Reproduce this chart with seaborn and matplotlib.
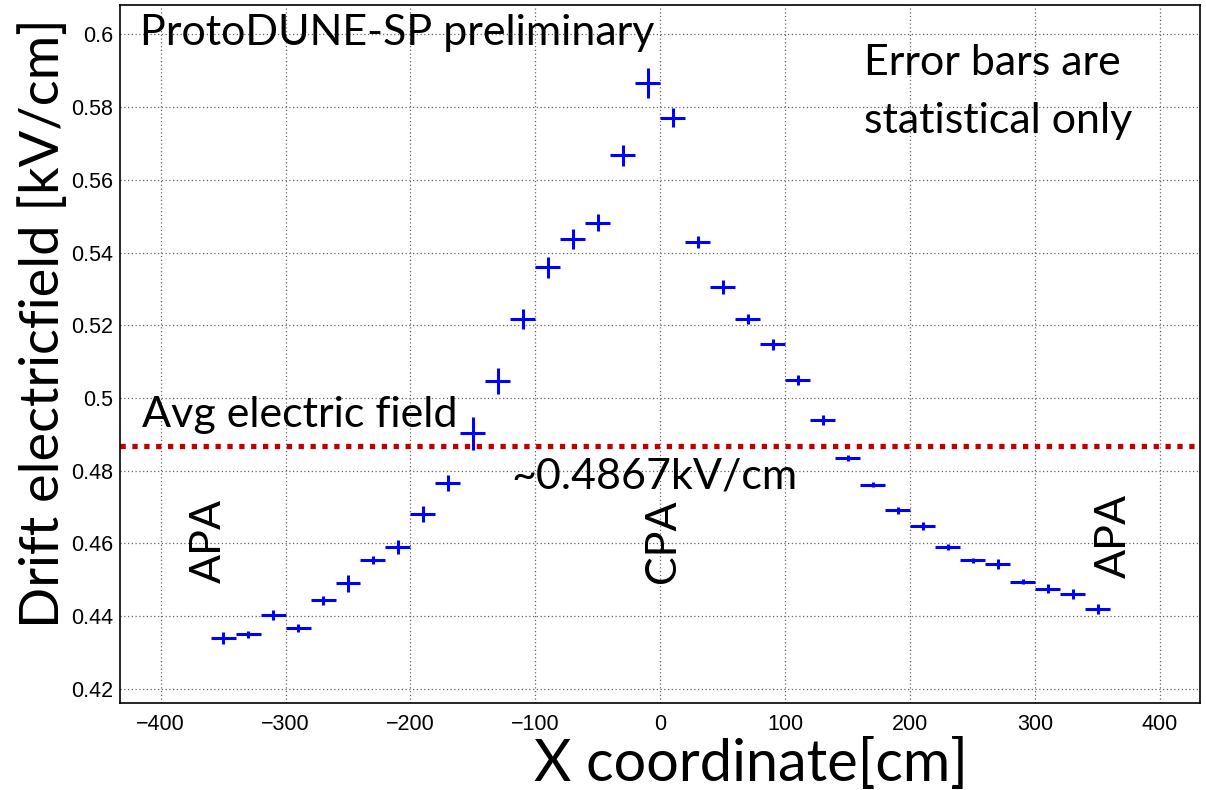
import seaborn as sns
import matplotlib.pyplot as plt
from matplotlib import font_manager
from matplotlib.ticker import MultipleLocator

# Datos
x_cm = [-350, -330, -310, -290, -270, -250, -230, -210, -190, -170, -150, -130,
        -110, -90, -70, -50, -30, -10, 10, 30, 50, 70, 90, 110,
        130, 150, 170, 190, 210, 230, 250, 270, 290, 310, 330, 350]
field = [0.4340, 0.4350, 0.4404, 0.4367, 0.4443, 0.4490, 0.4554, 0.4590, 0.4680,
         0.4767, 0.4903, 0.5047, 0.5217, 0.5359, 0.5438, 0.5482, 0.5668, 0.5867,
         0.5771, 0.5429, 0.5305, 0.5217, 0.5148, 0.5049, 0.4939, 0.4835, 0.4762,
         0.4691, 0.4648, 0.4590, 0.4553, 0.4543, 0.4494, 0.4475, 0.4461, 0.4419]
field_err = [0.0016, 0.0009, 0.0014, 0.0011, 0.0012, 0.0023, 0.0012, 0.0020, 0.0022,
             0.0022, 0.0046, 0.0036, 0.0027, 0.0030, 0.0027, 0.0023, 0.0029, 0.0042,
             0.0026, 0.0017, 0.0019, 0.0013, 0.0015, 0.0014, 0.0013, 0.0009, 0.0008,
             0.0010, 0.0010, 0.0008, 0.0008, 0.0014, 0.0007, 0.0012, 0.0013, 0.0014]
bin_half = 10
avg_field = 0.4867

sns.set_style("white")
plt.rcParams["text.color"] = "black"
plt.rcParams["axes.labelcolor"] = "black"
plt.rcParams["xtick.color"] = "black"
plt.rcParams["ytick.color"] = "black"

try:
    font_manager.findfont(font_manager.FontProperties(family="Liberation Sans Narrow"),
                          fallback_to_default=False)
    tick_font = "Liberation Sans Narrow"
    tick_size = 18
except Exception:
    tick_font = "Liberation Sans"
    tick_size = 15.5
text_font = "Lato"

fig = plt.figure(figsize=(12.06, 7.90), dpi=100)
ax = fig.add_axes([120 / 1206, 87 / 790, 1080 / 1206, 698 / 790])

# Puntos con barras de error
ax.errorbar(x_cm, field, xerr=bin_half, yerr=field_err, fmt="none",
            ecolor="#0000ff", elinewidth=2.2, capsize=0, zorder=3)

# Linea del campo promedio
ax.axhline(avg_field, color="#c00000", lw=3.8, linestyle=(0, (1, 1.25)),
           dash_capstyle="butt", zorder=2)

ax.set_xlim(-432.5, 432)
ax.set_ylim(0.4161, 0.6081)

ax.xaxis.set_major_locator(MultipleLocator(100))
ax.xaxis.set_minor_locator(MultipleLocator(20))
ax.yaxis.set_major_locator(MultipleLocator(0.02))
ax.yaxis.set_minor_locator(MultipleLocator(0.005))
ax.set_yticks([0.42, 0.44, 0.46, 0.48, 0.5, 0.52, 0.54, 0.56, 0.58, 0.6])
ax.set_yticklabels(["0.42", "0.44", "0.46", "0.48", "0.5", "0.52", "0.54",
                    "0.56", "0.58", "0.6"])

ax.grid(True, which="major", color="#666666", linestyle=(0, (1, 2)), lw=0.9)
ax.tick_params(axis="both", which="both", direction="in", top=False, right=False,
               width=1.0, color="black", labelcolor="black")
ax.tick_params(axis="y", which="major", length=23, pad=5)
ax.tick_params(axis="y", which="minor", length=13)
ax.tick_params(axis="x", which="major", length=22, pad=8)
ax.tick_params(axis="x", which="minor", length=11)
for lab in ax.get_xticklabels() + ax.get_yticklabels():
    lab.set_fontfamily(tick_font)
    lab.set_fontsize(tick_size)

for sp in ax.spines.values():
    sp.set_color("black")
    sp.set_linewidth(1.2)

# Titulos de los ejes (alineados a la derecha, como en ROOT)
ax.set_xlabel("X coordinate[cm]", fontfamily=text_font, fontsize=41.5,
              ha="right", va="baseline", color="black")
ax.xaxis.set_label_coords(0.785, -0.1113)
ax.set_ylabel("Drift electricfield [kV/cm]", fontfamily=text_font, fontsize=39,
              ha="right", va="baseline", color="black")
ax.yaxis.set_label_coords(-0.0565, 0.9814)

# Anotaciones
ann = dict(fontfamily=text_font, fontsize=31, color="black")
ax.text(-416.5, 0.5970, "ProtoDUNE-SP preliminary", va="baseline", ha="left", **ann)
ax.text(163.3, 0.5888, "Error bars are", va="baseline", ha="left", **ann)
ax.text(163.3, 0.5729, "statistical only", va="baseline", ha="left", **ann)
ax.text(-414.6, 0.4921, "Avg electric field", va="baseline", ha="left", **ann)
ax.text(-119.2, 0.4752, "~0.4867kV/cm", va="baseline", ha="left", **ann)
ax.text(-361, 0.4606, "APA", rotation=90, va="center", ha="center", **ann)
ax.text(2, 0.4606, "CPA", rotation=90, va="center", ha="center", **ann)
ax.text(363, 0.4620, "APA", rotation=90, va="center", ha="center", **ann)

fig.savefig("out.png", dpi=100)
